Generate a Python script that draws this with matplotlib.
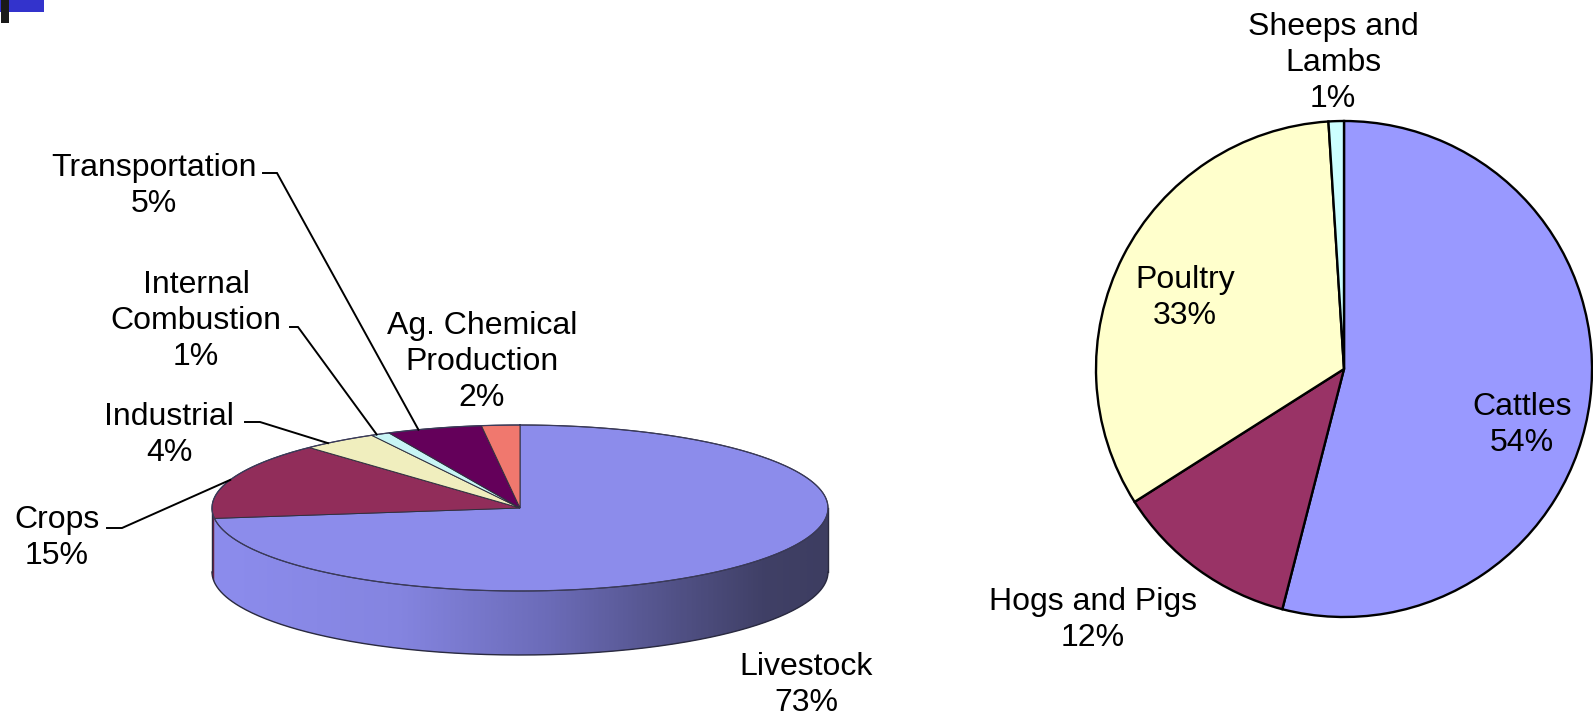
import numpy as np
import matplotlib
matplotlib.use("Agg")
import matplotlib.pyplot as plt
from matplotlib.patches import Polygon, Rectangle
from matplotlib.colors import LinearSegmentedColormap

# ---------------- data ----------------
left_labels = ["Livestock", "Crops", "Industrial", "Internal\nCombustion",
               "Transportation", "Ag. Chemical\nProduction"]
left_values = [73, 15, 4, 1, 5, 2]
left_colors = ["#8c8ceb", "#912d5a", "#f0eebe", "#c8f5f5", "#64005a", "#f0786e"]

right_labels = ["Cattles", "Hogs and Pigs", "Poultry", "Sheeps and\nLambs"]
right_values = [54, 12, 33, 1]
right_colors = ["#9999ff", "#993366", "#ffffcc", "#ccffff"]

W, H = 1593, 719
plt.rcParams['font.family'] = ['Liberation Sans', 'DejaVu Sans']
FS = 23
LS = 1.28

fig = plt.figure(figsize=(W / 100, H / 100), dpi=100)
ax = fig.add_axes([0, 0, 1, 1])


def Y(y):
    return H - y


# ---------------- left 3D pie ----------------
cx, cy, rx, ry, depth = 520, Y(508), 308, 83, 64
total = float(sum(left_values))
bounds = np.concatenate([[0], np.cumsum(left_values)]) / total * 360.0


def ell(theta_deg, dz=0.0):
    t = np.radians(theta_deg)
    return cx + rx * np.sin(t), cy + ry * np.cos(t) - dz


# side (front) faces
side_dark = ["#3c3c64", "#6e1f45", "#b0ae80", "#90c0c0", "#400038", "#b05048"]
for i in range(len(left_values)):
    a, b = bounds[i], bounds[i + 1]
    lo, hi = max(a, 90), min(b, 270)
    if hi <= lo:
        continue
    th = np.linspace(lo, hi, 200)
    xt, yt = ell(th)
    xb, yb = ell(th[::-1], depth)
    pts = np.column_stack([np.concatenate([xt, xb]), np.concatenate([yt, yb])])
    poly = Polygon(pts, closed=True, facecolor=side_dark[i], edgecolor='none', zorder=2)
    ax.add_patch(poly)
    if i == 0:
        cmap = LinearSegmentedColormap.from_list(
            "side", [(0.0, (0.55, 0.55, 0.93)), (0.3, (0.52, 0.52, 0.88)),
                     (0.55, (0.42, 0.42, 0.72)), (0.75, (0.32, 0.32, 0.53)),
                     (0.9, (0.25, 0.25, 0.40)), (1.0, (0.24, 0.24, 0.38))])
        grad = np.linspace(0, 1, 400)[None, :]
        im = ax.imshow(grad, cmap=cmap, extent=[cx - rx, cx + rx, cy - depth - ry - 2, cy + 2],
                       aspect='auto', zorder=3, interpolation='bilinear')
        im.set_clip_path(poly)

# side outline
th = np.linspace(90, 270, 300)
xb, yb = ell(th, depth)
ax.plot(xb, yb, color="#2a2a40", lw=1.0, zorder=4)
for t0 in (90, 270):
    x0, y0 = ell(t0)
    ax.plot([x0, x0], [y0, y0 - depth], color="#2a2a40", lw=1.0, zorder=4)

# top faces
for i in range(len(left_values)):
    a, b = bounds[i], bounds[i + 1]
    th = np.linspace(a, b, 300)
    xt, yt = ell(th)
    pts = np.column_stack([np.concatenate([[cx], xt]), np.concatenate([[cy], yt])])
    ax.add_patch(Polygon(pts, closed=True, facecolor=left_colors[i],
                         edgecolor="#303040", linewidth=0.7, zorder=5))
th = np.linspace(0, 360, 400)
xt, yt = ell(th)
ax.plot(xt, yt, color="#3a3a5a", lw=0.9, zorder=6)

# left labels (text centre positions in pixels)
left_text = [
    ("Livestock\n73%", 806, 685),
    ("Crops\n15%", 57, 538),
    ("Industrial\n4%", 169, 435),
    ("Internal\nCombustion\n1%", 196, 321),
    ("Transportation\n5%", 154, 186),
    ("Ag. Chemical\nProduction\n2%", 482, 362),
]
for s, x, y in left_text:
    ax.text(x, Y(y), s, ha='center', va='center', fontsize=FS, linespacing=LS,
            color='black', zorder=10)

# leader lines: (wedge index, stub start, stub end, fraction within wedge)
leaders = [
    (1, (107, 528), (122, 528), 0.5),
    (2, (245, 422), (260, 422), 0.32),
    (3, (290, 327), (298, 327), 0.3),
    (4, (263, 173), (277, 173), 0.33),
]
for i, p0, p1, f in leaders:
    ang = bounds[i] + f * (bounds[i + 1] - bounds[i])
    tx, ty = ell(ang)
    ax.plot([p0[0], p1[0], tx], [Y(p0[1]), Y(p1[1]), ty], color='black', lw=1.4,
            zorder=9, solid_joinstyle='miter')

# ---------------- right pie ----------------
wedges, _ = ax.pie(right_values, colors=right_colors, startangle=90, counterclock=False,
                   center=(1344, Y(369)), radius=248,
                   wedgeprops=dict(edgecolor='black', linewidth=1.7))
right_text = [
    ("Cattles\n54%", 1522, 425),
    ("Hogs and Pigs\n12%", 1093, 620),
    ("Poultry\n33%", 1185, 298),
    ("Sheeps and\nLambs\n1%", 1333, 63),
]
for s, x, y in right_text:
    ax.text(x, Y(y), s, ha='center', va='center', fontsize=FS, linespacing=LS,
            color='black', zorder=10)

# corner mark
ax.add_patch(Rectangle((0, Y(12)), 44, 12, facecolor="#3333cc", edgecolor='none', zorder=11))
ax.add_patch(Rectangle((1, Y(23)), 8, 23, facecolor="#1a1a1a", edgecolor='none', zorder=12))

ax.set_xlim(0, W)
ax.set_ylim(0, H)
ax.set_aspect('auto')
ax.axis('off')

fig.savefig("out.png", dpi=100, facecolor='white')
